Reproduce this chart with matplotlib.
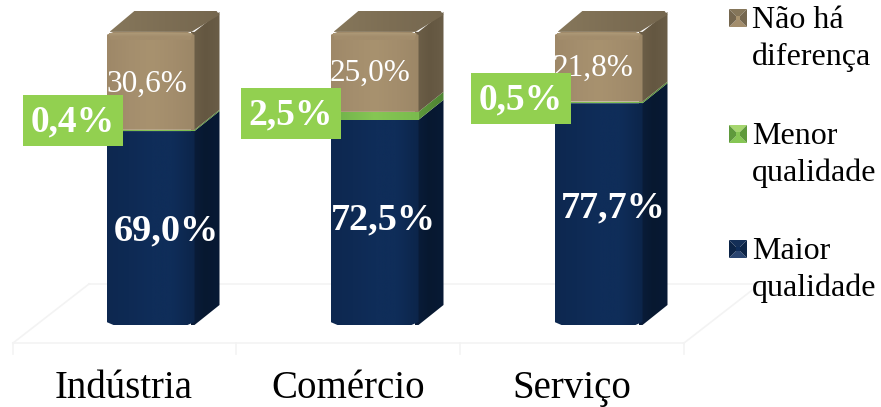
import numpy as np
import matplotlib
matplotlib.use("Agg")
import matplotlib.pyplot as plt
from matplotlib.colors import LinearSegmentedColormap
from matplotlib.patches import Polygon

W, H = 881, 407

categories = ["Indústria", "Comércio", "Serviço"]
maior = [69.0, 72.5, 77.7]
menor = [0.4, 2.5, 0.5]
nao_ha = [30.6, 25.0, 21.8]

legend_labels = ["Não há\ndiferença", "Menor\nqualidade", "Maior\nqualidade"]

FONT = "Liberation Serif"

# px per unit of the two axes, the value axis is cut at its lower end like the original
X_UNIT = 224.0
Y_UNIT = 3.2
Y_BASE = 8.4
BAR_W = 88 / X_UNIT
DEPTH_X = 25 / X_UNIT
DEPTH_Y = 20 / Y_UNIT

plt.rcParams["font.family"] = [FONT, "DejaVu Serif"]

fig = plt.figure(figsize=(W / 100, H / 100), dpi=100)

# overlay in pixels for floor, legend and the callouts
ax_px = fig.add_axes([0, 0, 1, 1], zorder=1)
ax_px.set_xlim(0, W)
ax_px.set_ylim(H, 0)
ax_px.axis("off")

ax = fig.add_axes([0, 0, 1, 1], zorder=2)
ax.patch.set_alpha(0)
ax.axis("off")


def cmap(*cols):
    return LinearSegmentedColormap.from_list("c", list(cols))


def gradient_poly(axis, pts, cols, vertical=False, z=3):
    pts = np.array(pts)
    poly = Polygon(pts, closed=True, fc="none", ec="none", zorder=z)
    axis.add_patch(poly)
    grad = np.linspace(0, 1, 128)
    grad = grad[:, None] if vertical else grad[None, :]
    im = axis.imshow(grad, cmap=cmap(*cols), aspect="auto", zorder=z,
                     extent=(pts[:, 0].min(), pts[:, 0].max(), pts[:, 1].min(), pts[:, 1].max()),
                     origin="lower")
    im.set_clip_path(poly)


def draw_segment(xc, y0, y1, front, side, cut_bottom=False, cut_top=False):
    left, right = xc - BAR_W / 2, xc + BAR_W / 2
    cx, cy = 7 / X_UNIT, 3 / Y_UNIT
    # side first and reaching under the front, so no seam shows
    under = 4 / X_UNIT
    gradient_poly(ax, [(right - under, y0), (right, y0), (right + DEPTH_X, y0 + DEPTH_Y),
                       (right + DEPTH_X, y1 + DEPTH_Y), (right, y1), (right - under, y1)], side)
    bl = [(left, y0 + cy), (left + cx, y0), (right - cx, y0), (right, y0 + cy)] if cut_bottom else [(left, y0), (right, y0)]
    tr = [(right, y1 - cy), (right - cx, y1), (left + cx, y1), (left, y1 - cy)] if cut_top else [(right, y1), (left, y1)]
    gradient_poly(ax, bl + tr, front)


x = np.arange(len(categories))
base = np.array([Y_BASE] * len(categories))
navy_top = np.array(maior)
green_top = navy_top + np.array(menor)
tan_top = green_top + np.array(nao_ha)

navy_front = ("#0D2850", "#0E2A54", "#0F2D59", "#0F2D59", "#0C254A")
navy_side = ("#0A1D3B", "#071830", "#081A35")
green_front = ("#6FB04A", "#86C654", "#7ABB4E")
green_side = ("#5F9A3C", "#4E8432")
tan_front = ("#9E8868", "#A48E6D", "#A8926F", "#A38D6C", "#9C8767")
tan_side = ("#6E6049", "#645741", "#6A5D47")

for i, xc in enumerate(x):
    draw_segment(xc, base[i], navy_top[i], navy_front, navy_side, cut_bottom=True)
    draw_segment(xc, navy_top[i], green_top[i], green_front, green_side)
    draw_segment(xc, green_top[i], tan_top[i], tan_front, tan_side, cut_top=True)

    # top face and its lighter rim
    left, right = xc - BAR_W / 2, xc + BAR_W / 2
    top = tan_top[i]
    gradient_poly(ax, [(left + 3 / X_UNIT, top), (left + DEPTH_X + 3 / X_UNIT, top + DEPTH_Y + 1 / Y_UNIT),
                       (right + DEPTH_X - 3 / X_UNIT, top + DEPTH_Y + 1 / Y_UNIT),
                       (right + DEPTH_X, top + DEPTH_Y - 3 / Y_UNIT), (right - 3 / X_UNIT, top)],
                  ("#86775B", "#7D6E54", "#75674F"), z=4)
    gradient_poly(ax, [(left + 4 / X_UNIT, top - 8 / Y_UNIT), (right - 4 / X_UNIT, top - 8 / Y_UNIT),
                       (right - 2 / X_UNIT, top - 1 / Y_UNIT), (left + 2 / X_UNIT, top - 1 / Y_UNIT)],
                  ("#A38D6C", "#A38D6C", "#AD9977"), vertical=True, z=4)

ax.set_xlim(-150.5 / X_UNIT, (W - 150.5) / X_UNIT)
ax.set_ylim(Y_BASE - (H - 325) / Y_UNIT, Y_BASE + 325 / Y_UNIT)

# floor
floor = "#F3F3F3"
ax_px.plot([13, 684], [343, 343], color=floor, lw=1.2)
ax_px.plot([89, 755], [284, 284], color=floor, lw=1.2)
ax_px.plot([13, 89], [343, 284], color=floor, lw=1.2)
ax_px.plot([684, 760], [343, 284], color=floor, lw=1.2)
for tx in [13, 236, 460, 684]:
    ax_px.plot([tx, tx], [343, 354], color=floor, lw=1.2)

# category names, baseline just above the lower edge so the cedilla stays in
for name, px in zip(categories, [124, 348, 572]):
    ax_px.text(px, 398, name, fontsize=28, color="black", ha="center", va="baseline")

# data labels
for label, px, py in zip(maior, [166, 383, 613], [231, 220, 208]):
    ax.text(px, py, f"{label:.1f}%".replace(".", ","), fontsize=27.5, fontweight="bold", color="white",
            ha="center", va="center", transform=ax_px.transData, zorder=6)
for label, px, py in zip(nao_ha, [147, 370, 593], [84, 73, 68]):
    ax.text(px, py, f"{label:.1f}%".replace(".", ","), fontsize=22.5, color="white",
            ha="center", va="center", transform=ax_px.transData, zorder=6)
for label, px, py in zip(menor, [23, 241, 471], [95, 88, 73]):
    ax.add_patch(plt.Rectangle((px, py), 100, 51, fc="#92D050", ec="none", zorder=7, transform=ax_px.transData))
    ax.text(px + 50, py + 27, f"{label:.1f}%".replace(".", ","), fontsize=27, fontweight="bold", color="white",
            ha="center", va="center", transform=ax_px.transData, zorder=8)

# legend, bevelled squares
legend_cols = [("#A8936F", "#85765A", "#75674F", "#A38D6C"),
               ("#86C654", "#A6D66F", "#5F9A3C", "#86C654"),
               ("#0F2D59", "#142F57", "#0C2446", "#2A4570")]
for (mid, top_c, dark, bot), ly, lab, ty in zip(legend_cols, [9, 125, 240], legend_labels, [39, 155, 270]):
    x0, x1, y0, y1 = 729, 747, ly, ly + 18
    ins = 7
    ax_px.add_patch(Polygon([(x0, y0), (x1, y0), (x1 - ins, y0 + ins), (x0 + ins, y0 + ins)], fc=top_c, ec="none"))
    ax_px.add_patch(Polygon([(x0, y1), (x1, y1), (x1 - ins, y1 - ins), (x0 + ins, y1 - ins)], fc=bot, ec="none"))
    ax_px.add_patch(Polygon([(x0, y0), (x0 + ins, y0 + ins), (x0 + ins, y1 - ins), (x0, y1)], fc=dark, ec="none"))
    ax_px.add_patch(Polygon([(x1, y0), (x1 - ins, y0 + ins), (x1 - ins, y1 - ins), (x1, y1)], fc=dark, ec="none"))
    ax_px.add_patch(plt.Rectangle((x0 + ins, y0 + ins), x1 - x0 - 2 * ins, y1 - y0 - 2 * ins, fc=mid, ec="none"))
    ax_px.text(752, ty, lab, fontsize=23, color="black", ha="left", va="center", linespacing=1.33)

fig.savefig("out.png", dpi=100)
